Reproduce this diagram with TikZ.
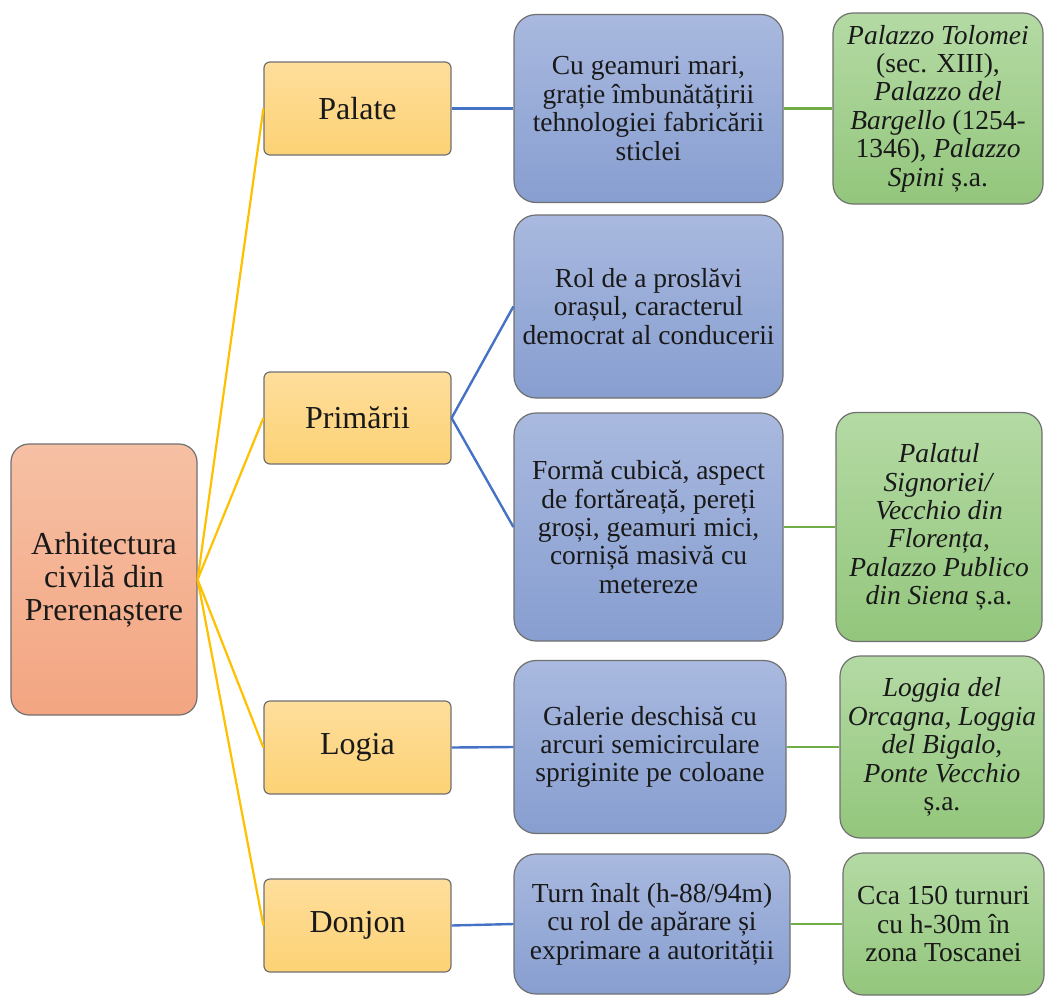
\documentclass[tikz,border=0pt]{standalone}
\usepackage{fontspec}
\setmainfont{Liberation Serif}
\definecolor{rootTop}{HTML}{F6C0A4}
\definecolor{rootBot}{HTML}{F3A581}
\definecolor{lTop}{HTML}{FEDE9C}
\definecolor{lBot}{HTML}{FDD275}
\definecolor{bTop}{HTML}{A9B9DF}
\definecolor{bBot}{HTML}{879ED0}
\definecolor{gTop}{HTML}{B4DAA4}
\definecolor{gBot}{HTML}{93C67C}
\definecolor{edgeY}{HTML}{FFC000}
\definecolor{edgeB}{HTML}{4472C4}
\definecolor{edgeG}{HTML}{70AD47}
\definecolor{frame}{HTML}{707070}
\tikzset{
  box/.style={draw=frame, line width=1.2pt, align=center, inner sep=0pt, text=black!90},
  rootbox/.style={box, rounded corners=18pt, top color=rootTop, bottom color=rootBot,
    font=\fontsize{32}{33}\selectfont},
  lvlbox/.style={box, rounded corners=6pt, top color=lTop, bottom color=lBot,
    font=\fontsize{32}{33}\selectfont},
  bluebox/.style={box, rounded corners=22pt, top color=bTop, bottom color=bBot,
    font=\fontsize{27.5}{28.4}\selectfont},
  greenbox/.style={box, rounded corners=20pt, top color=gTop, bottom color=gBot,
    font=\fontsize{27.5}{28.4}\selectfont},
  ylink/.style={draw=edgeY, line width=2.2pt},
  blink/.style={draw=edgeB, line width=2.4pt},
  glink/.style={draw=edgeG, line width=2.8pt},
}
\begin{document}
\begin{tikzpicture}[x=1pt,y=-1pt]
\useasboundingbox (0,0) rectangle (1046,996);
\node[rootbox, minimum width=186pt, minimum height=271pt] (root) at (104,579.5)
  {Arhitectura\\civilă din\\Prerenaștere};
\node[lvlbox, minimum width=187pt, minimum height=93pt] (palate) at (357.5,108.5) {Palate};
\node[lvlbox, minimum width=187pt, minimum height=92pt] (primarii) at (357.5,418) {Primării};
\node[lvlbox, minimum width=187pt, minimum height=93pt] (logia) at (357.5,747.5) {Logia};
\node[lvlbox, minimum width=187pt, minimum height=93pt] (donjon) at (357.5,925.5) {Donjon};

\node[bluebox, minimum width=269pt, minimum height=188pt] (b1) at (648.5,108.5)
  {Cu geamuri mari,\\grație îmbunătățirii\\tehnologiei fabricării\\sticlei};
\node[bluebox, minimum width=269pt, minimum height=183pt] (b2) at (648.5,306.5)
  {Rol de a proslăvi\\orașul, caracterul\\democrat al conducerii};
\node[bluebox, minimum width=269pt, minimum height=228pt] (b3) at (648.5,527)
  {Formă cubică, aspect\\de fortăreață, pereți\\groși, geamuri mici,\\cornișă masivă cu\\metereze};
\node[bluebox, minimum width=272pt, minimum height=173pt] (b4) at (650,747)
  {Galerie deschisă cu\\arcuri semicirculare\\spriginite pe coloane};
\node[bluebox, minimum width=276pt, minimum height=140pt] (b5) at (652,924)
  {Turn înalt (h-88/94m)\\cu rol de apărare și\\exprimare a autorității};

\node[greenbox, minimum width=210pt, minimum height=191pt] (g1) at (938,108.5)
  {\textit{Palazzo Tolomei}\\(sec. XIII),\\\textit{Palazzo del}\\\textit{Bargello} (1254-\\1346), \textit{Palazzo}\\\textit{Spini} ș.a.};
\node[greenbox, minimum width=206pt, minimum height=229pt] (g2) at (939,527)
  {\textit{Palatul}\\\textit{Signoriei/}\\\textit{Vecchio din}\\\textit{Florența},\\\textit{Palazzo Publico}\\\textit{din Siena} ș.a.};
\node[greenbox, minimum width=204pt, minimum height=182pt] (g3) at (942,747)
  {\textit{Loggia del}\\\textit{Orcagna, Loggia}\\\textit{del Bigalo,}\\\textit{Ponte Vecchio}\\ș.a.};
\node[greenbox, minimum width=201pt, minimum height=142pt] (g4) at (943.5,924)
  {Cca 150 turnuri\\cu h-30m în\\zona Toscanei};

\draw[ylink] (root.east) -- (palate.west);
\draw[ylink] (root.east) -- (primarii.west);
\draw[ylink] (root.east) -- (logia.west);
\draw[ylink] (root.east) -- (donjon.west);

\draw[blink] (palate.east) -- (b1.west);
\draw[blink] (primarii.east) -- (b2.west);
\draw[blink] (primarii.east) -- (b3.west);
\draw[blink] (logia.east) -- (b4.west);
\draw[blink] (donjon.east) -- (b5.west);

\draw[glink] (b1.east) -- (g1.west);
\draw[glink] (b3.east) -- (g2.west);
\draw[glink] (b4.east) -- (g3.west);
\draw[glink] (b5.east) -- (g4.west);
\end{tikzpicture}
\end{document}
